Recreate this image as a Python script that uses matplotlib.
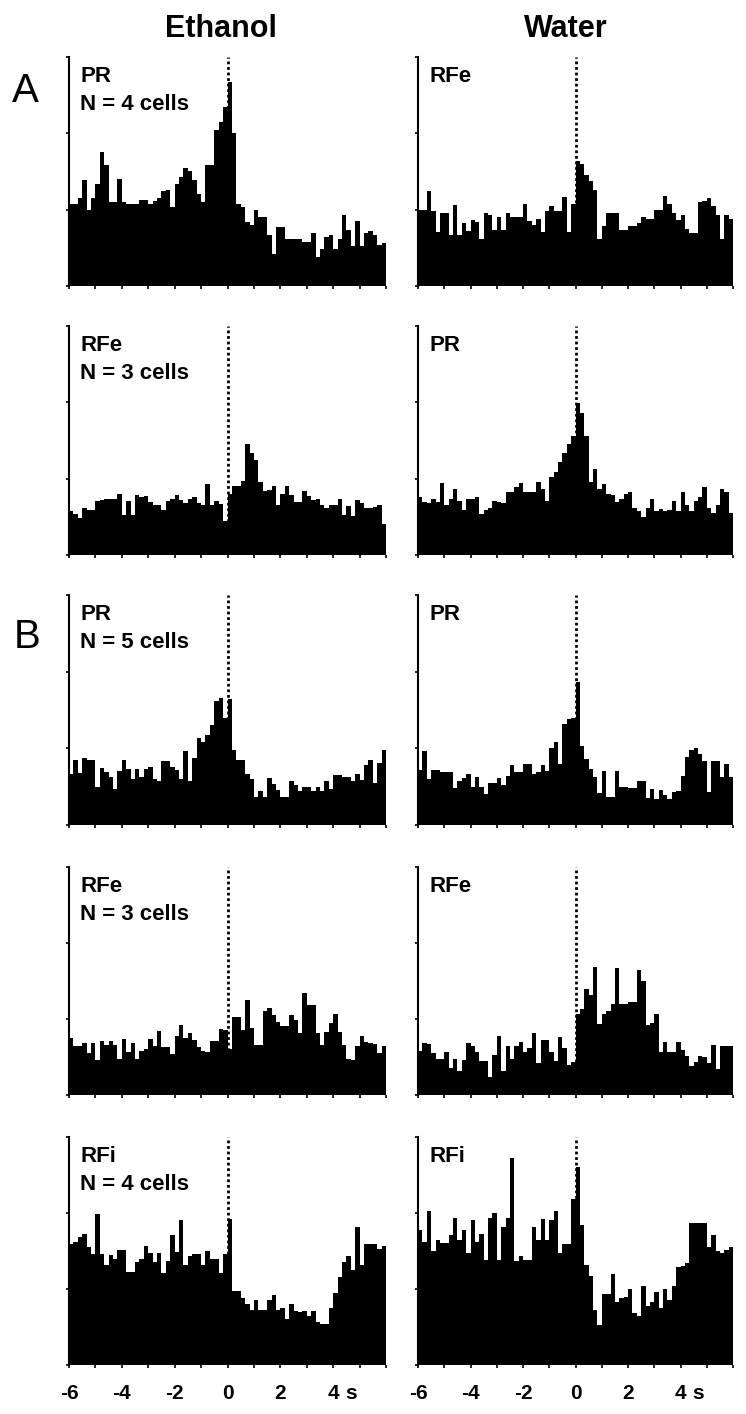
import matplotlib
matplotlib.use("Agg")
import matplotlib.pyplot as plt
import numpy as np

plt.rcParams['font.family'] = ['Liberation Sans', 'DejaVu Sans']

# 72 bins of 1/6 s from -6 s to 6 s, heights in y-tick units (axis runs 0..3)
bin_edges = np.linspace(-6, 6, 73)

eth_A_PR = [1.07, 1.07, 1.15, 1.39, 0.99, 1.15, 1.34, 1.76, 1.59, 1.10, 1.10, 1.40,
            1.10, 1.07, 1.07, 1.07, 1.13, 1.13, 1.07, 1.11, 1.15, 1.24, 1.26, 1.04,
            1.34, 1.43, 1.55, 1.51, 1.39, 1.21, 1.10, 1.59, 1.59, 2.05, 2.15, 2.34,
            2.67, 2.01, 1.08, 1.03, 0.84, 0.80, 0.99, 0.90, 0.90, 0.67, 0.42, 0.77,
            0.77, 0.62, 0.62, 0.62, 0.62, 0.57, 0.57, 0.70, 0.38, 0.48, 0.64, 0.67,
            0.49, 0.62, 0.93, 0.73, 0.53, 0.85, 0.53, 0.69, 0.72, 0.67, 0.54, 0.56]
wat_A_RFe = [1.00, 1.00, 1.24, 0.98, 0.71, 0.96, 0.96, 0.67, 1.06, 0.67, 0.82, 0.72,
             0.86, 0.84, 0.61, 0.96, 0.93, 0.73, 0.90, 0.73, 0.95, 0.90, 0.90, 0.90,
             1.07, 0.85, 0.80, 0.88, 0.71, 0.98, 1.05, 0.98, 0.98, 1.16, 0.71, 1.08,
             1.64, 1.60, 1.45, 1.37, 1.26, 0.61, 0.78, 0.96, 0.96, 0.96, 0.73, 0.73,
             0.78, 0.78, 0.82, 0.90, 0.88, 0.88, 0.99, 0.99, 1.18, 1.07, 0.96, 0.87,
             0.93, 0.75, 0.69, 0.69, 1.10, 1.12, 1.15, 1.05, 0.93, 0.62, 0.93, 0.88]
eth_A_RFe = [0.57, 0.54, 0.48, 0.62, 0.59, 0.59, 0.71, 0.72, 0.73, 0.73, 0.74, 0.80,
             0.52, 0.71, 0.52, 0.79, 0.76, 0.77, 0.70, 0.66, 0.66, 0.59, 0.71, 0.73,
             0.79, 0.72, 0.68, 0.74, 0.76, 0.68, 0.66, 0.93, 0.66, 0.71, 0.67, 0.45,
             0.80, 0.91, 0.91, 0.97, 1.46, 1.33, 1.24, 0.95, 0.84, 0.85, 0.90, 0.66,
             0.80, 0.90, 0.79, 0.69, 0.69, 0.84, 0.77, 0.72, 0.73, 0.66, 0.61, 0.66,
             0.66, 0.74, 0.52, 0.64, 0.51, 0.72, 0.68, 0.62, 0.62, 0.63, 0.66, 0.41]
wat_A_PR = [0.76, 0.70, 0.68, 0.73, 0.69, 0.94, 0.66, 0.74, 0.86, 0.71, 0.59, 0.73,
            0.74, 0.76, 0.54, 0.59, 0.62, 0.71, 0.69, 0.68, 0.82, 0.82, 0.89, 0.94,
            0.82, 0.82, 0.82, 0.96, 0.86, 0.71, 1.02, 1.09, 1.22, 1.34, 1.45, 1.56,
            1.99, 1.86, 1.56, 0.95, 1.13, 0.86, 0.93, 0.80, 0.78, 0.69, 0.73, 0.80,
            0.82, 0.61, 0.58, 0.50, 0.62, 0.74, 0.58, 0.60, 0.57, 0.59, 0.71, 0.57,
            0.82, 0.66, 0.57, 0.71, 0.76, 0.89, 0.62, 0.55, 0.66, 0.87, 0.83, 0.55]
eth_B_PR = [0.66, 0.85, 0.68, 0.87, 0.85, 0.85, 0.49, 0.74, 0.69, 0.63, 0.47, 0.70,
            0.85, 0.73, 0.60, 0.73, 0.62, 0.73, 0.76, 0.60, 0.57, 0.84, 0.84, 0.76,
            0.72, 0.60, 0.96, 0.57, 0.87, 1.14, 1.08, 1.18, 1.31, 1.62, 1.66, 1.40,
            1.64, 0.98, 0.85, 0.85, 0.66, 0.60, 0.36, 0.44, 0.36, 0.61, 0.54, 0.46,
            0.36, 0.36, 0.58, 0.52, 0.45, 0.49, 0.50, 0.45, 0.50, 0.45, 0.58, 0.47,
            0.65, 0.65, 0.63, 0.62, 0.58, 0.67, 0.59, 0.78, 0.85, 0.55, 0.81, 0.98]
wat_B_PR = [0.72, 0.96, 0.60, 0.72, 0.72, 0.69, 0.69, 0.69, 0.48, 0.58, 0.61, 0.66,
            0.50, 0.63, 0.50, 0.41, 0.55, 0.55, 0.61, 0.52, 0.64, 0.78, 0.69, 0.69,
            0.80, 0.80, 0.67, 0.69, 0.78, 0.70, 1.01, 1.08, 0.80, 1.32, 1.38, 1.40,
            1.86, 1.03, 0.86, 0.73, 0.63, 0.42, 0.71, 0.37, 0.37, 0.71, 0.49, 0.49,
            0.48, 0.48, 0.58, 0.58, 0.35, 0.47, 0.34, 0.46, 0.39, 0.34, 0.43, 0.45,
            0.64, 0.89, 0.98, 1.01, 0.92, 0.84, 0.43, 0.83, 0.84, 0.62, 0.79, 0.62]
eth_B_RFe = [0.75, 0.64, 0.64, 0.68, 0.55, 0.69, 0.46, 0.71, 0.66, 0.71, 0.66, 0.47,
             0.74, 0.56, 0.69, 0.48, 0.58, 0.61, 0.74, 0.64, 0.84, 0.63, 0.63, 0.54,
             0.77, 0.92, 0.75, 0.82, 0.73, 0.63, 0.58, 0.57, 0.71, 0.71, 0.87, 0.85,
             0.61, 1.03, 1.02, 0.86, 1.25, 0.88, 0.66, 0.66, 1.10, 1.14, 1.05, 0.96,
             0.91, 0.91, 1.05, 0.99, 0.82, 1.34, 1.19, 1.19, 0.81, 0.66, 0.83, 0.95,
             1.07, 0.83, 0.66, 0.48, 0.46, 0.64, 0.78, 0.70, 0.69, 0.67, 0.55, 0.64]
wat_B_RFe = [0.58, 0.68, 0.67, 0.55, 0.47, 0.47, 0.56, 0.35, 0.48, 0.31, 0.46, 0.68,
             0.64, 0.57, 0.45, 0.45, 0.24, 0.53, 0.78, 0.31, 0.64, 0.47, 0.64, 0.70,
             0.57, 0.62, 0.82, 0.42, 0.72, 0.72, 0.57, 0.45, 0.76, 0.62, 0.40, 0.43,
             1.07, 1.13, 1.39, 1.32, 1.69, 0.93, 1.06, 1.10, 1.20, 1.67, 1.20, 1.20,
             1.23, 1.23, 1.64, 1.50, 0.92, 0.95, 1.07, 0.57, 0.70, 0.57, 0.57, 0.70,
             0.59, 0.51, 0.38, 0.44, 0.51, 0.50, 0.42, 0.66, 0.34, 0.65, 0.65, 0.64]
eth_B_RFi = [1.59, 1.62, 1.69, 1.72, 1.55, 1.46, 1.99, 1.46, 1.32, 1.45, 1.40, 1.51,
             1.51, 1.23, 1.23, 1.35, 1.39, 1.57, 1.47, 1.35, 1.48, 1.21, 1.37, 1.71,
             1.49, 1.91, 1.31, 1.43, 1.46, 1.46, 1.32, 1.50, 1.40, 1.40, 1.21, 1.46,
             1.92, 0.98, 0.98, 0.88, 0.80, 0.72, 0.86, 0.73, 0.73, 0.86, 0.92, 0.73,
             0.75, 0.61, 0.80, 0.71, 0.70, 0.71, 0.64, 0.71, 0.56, 0.54, 0.54, 0.75,
             0.95, 1.16, 1.36, 1.43, 1.25, 1.81, 1.32, 1.59, 1.59, 1.59, 1.53, 1.57]
wat_B_RFi = [1.77, 1.62, 2.03, 1.50, 1.64, 1.60, 1.60, 1.71, 1.93, 1.64, 1.77, 1.48,
             1.91, 1.62, 1.72, 1.38, 1.94, 2.00, 1.38, 1.82, 1.93, 2.73, 1.37, 1.43,
             1.38, 1.38, 1.81, 1.64, 1.92, 1.64, 1.91, 2.03, 1.47, 1.59, 1.59, 2.18,
             2.61, 1.84, 1.32, 1.17, 0.72, 0.53, 0.94, 0.94, 1.20, 0.83, 0.88, 0.89,
             1.00, 0.69, 0.64, 1.04, 0.77, 0.83, 0.96, 0.75, 1.00, 0.86, 1.04, 1.29,
             1.30, 1.34, 1.87, 1.87, 1.87, 1.87, 1.55, 1.71, 1.50, 1.48, 1.51, 1.55]

panels = [[eth_A_PR, wat_A_RFe],
          [eth_A_RFe, wat_A_PR],
          [eth_B_PR, wat_B_PR],
          [eth_B_RFe, wat_B_RFe],
          [eth_B_RFi, wat_B_RFi]]
panel_labels = [["PR\nN = 4 cells", "RFe"],
                ["RFe\nN = 3 cells", "PR"],
                ["PR\nN = 5 cells", "PR"],
                ["RFe\nN = 3 cells", "RFe"],
                ["RFi\nN = 4 cells", "RFi"]]
col_titles = ["Ethanol", "Water"]
tick_pos = list(range(-6, 7))
tick_text = ["-6", "", "-4", "", "-2", "", "0", "", "2", "", "4", "", ""]

W, H = 746, 1414
fig = plt.figure(figsize=(W / 100, H / 100), dpi=100)

col_x = [(69, 317), (418, 315)]
row_y = [(57, 286), (326, 555), (595, 825), (867, 1095), (1137, 1365)]
x_tick_len, x_pad = 2, 12

for r in range(5):
    for c in range(2):
        x0, w = col_x[c]
        top, bot = row_y[r]
        ax = fig.add_axes([x0 / W, 1 - bot / H, w / W, (bot - top) / H])
        ax.stairs(panels[r][c], bin_edges, fill=True, color='black', lw=0, zorder=2)
        ax.plot([0, 0], [0, 3], color='black', lw=2, ls=(0, (1, 1)), zorder=1)
        ax.set_xlim(-6, 6)
        ax.set_ylim(0, 3)
        for s in ['top', 'right', 'bottom']:
            ax.spines[s].set_visible(False)
        ax.spines['left'].set_linewidth(1.5)
        ax.set_yticks([0, 1, 2, 3])
        ax.set_yticklabels([])
        ax.tick_params(axis='y', length=2.5, width=1.2, direction='out')
        ax.set_xticks(tick_pos)
        ax.tick_params(axis='x', length=x_tick_len, width=1.2, direction='out', pad=x_pad)
        if r == 4:
            ax.set_xticklabels(tick_text, fontsize=15, fontweight='bold')
            trans, va, ha = ax.get_xaxis_text1_transform(x_pad + x_tick_len)
            ax.text(4.68, 0, "s", transform=trans, ha='center', va=va,
                    fontsize=15, fontweight='bold')
        else:
            ax.set_xticklabels([])
        ax.text(0.035, 0.962, panel_labels[r][c], transform=ax.transAxes,
                ha='left', va='top', fontsize=16, fontweight='bold', linespacing=1.45)

fig.text(221 / W, 1 - 37 / H, col_titles[0], ha='center', va='baseline',
         fontsize=22, fontweight='bold')
fig.text(566 / W, 1 - 37 / H, col_titles[1], ha='center', va='baseline',
         fontsize=22, fontweight='bold')
fig.text(12 / W, 1 - 102 / H, "A", ha='left', va='baseline', fontsize=29)
fig.text(14 / W, 1 - 648 / H, "B", ha='left', va='baseline', fontsize=29)

fig.savefig("out.png", dpi=100)
